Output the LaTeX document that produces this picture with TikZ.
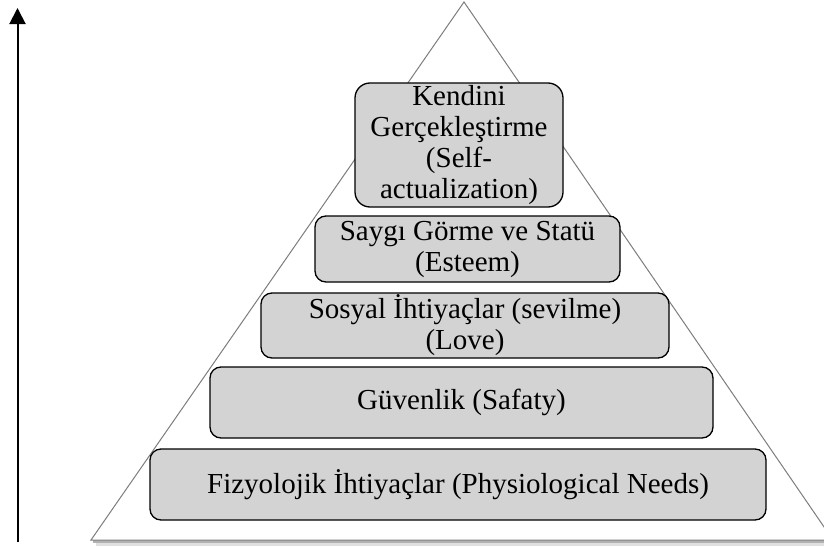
\documentclass[tikz,border=0pt]{standalone}
\usepackage{fontspec}
\setmainfont{Liberation Serif}
\usetikzlibrary{arrows.meta}
\definecolor{boxgray}{RGB}{211,211,211}
\definecolor{edgegray}{RGB}{125,125,125}
\begin{document}
\begin{tikzpicture}[x=1pt,y=-1pt,
  level/.style={draw=black, line width=1.3pt, fill=boxgray, rounded corners=11pt,
    inner sep=0pt, align=center, font=\fontsize{29}{31}\selectfont},
  outline/.style={draw=edgegray, line width=1pt, fill=white},
  uparrow/.style={draw=black, line width=2pt, -{Triangle[width=16pt,length=16pt]}}
]
\useasboundingbox (0,0) rectangle (824,546);

% base shadow of the pyramid
\fill[black!12] (96,541) rectangle (824,546);
\fill[black!30] (93,540) rectangle (824,543);

% pyramid outline
\coordinate (apex) at (464,2);
\coordinate (bl) at (91,540);
\coordinate (br) at (833,540);
\draw[outline] (apex) -- (bl) -- (br) -- cycle;

% hierarchy levels, top to bottom
\node[level, rounded corners=15pt, minimum width=208pt, minimum height=124pt] (self) at (459,145)
  {Kendini\\Gerçekleştirme\\(Self-\\actualization)};
\node[level, minimum width=305pt, minimum height=66pt] (esteem) at (467.5,249)
  {Saygı Görme ve Statü\\(Esteem)};
\node[level, minimum width=408pt, minimum height=65pt] (love) at (465,325.5)
  {Sosyal İhtiyaçlar (sevilme)\\(Love)};
\node[level, minimum width=503pt, minimum height=71pt] (safety) at (461.5,402.5)
  {Güvenlik (Safaty)};
\node[level, minimum width=616pt, minimum height=71pt] (phys) at (458,484.5)
  {Fizyolojik İhtiyaçlar (Physiological Needs)};

% upward arrow on the left
\coordinate (abot) at (17.5,542);
\coordinate (atop) at (17.5,8);
\draw[uparrow] (abot) -- (atop);
\end{tikzpicture}
\end{document}
